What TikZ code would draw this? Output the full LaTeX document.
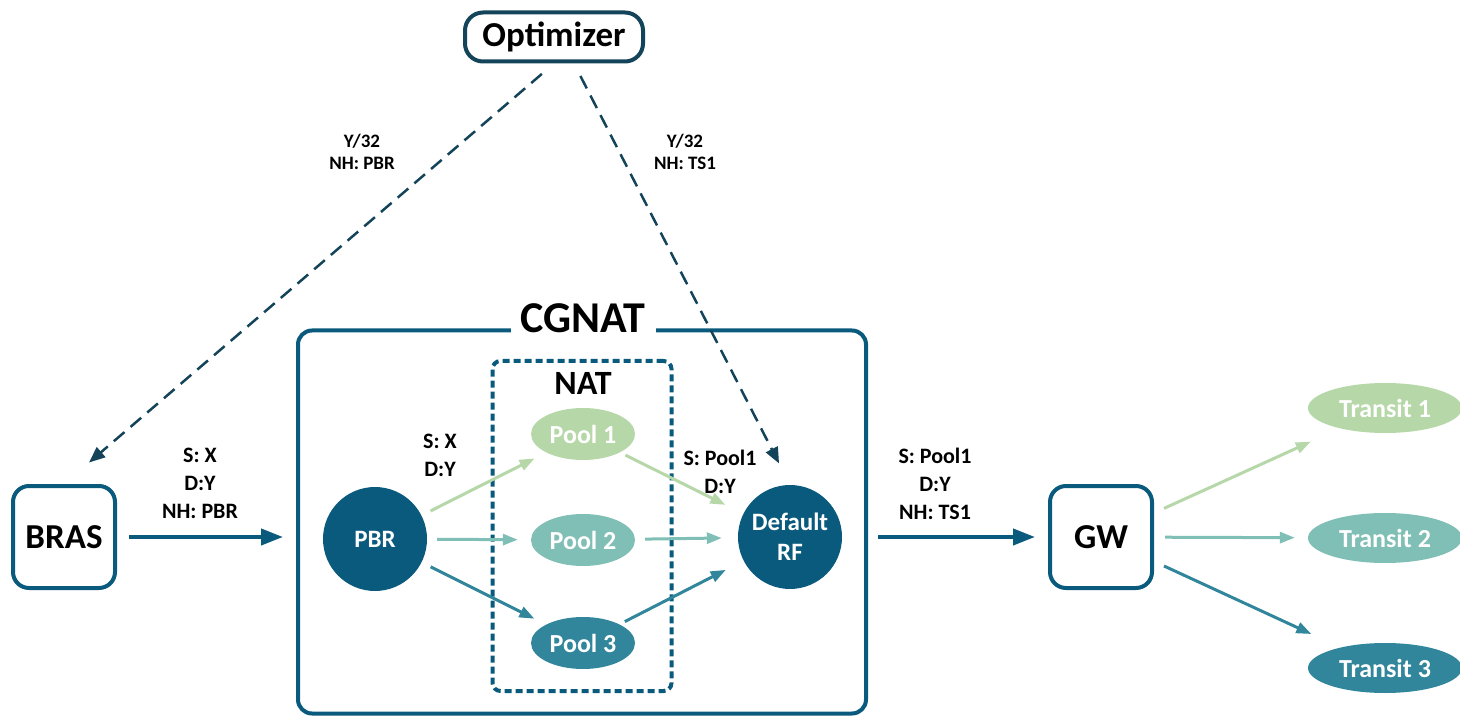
\documentclass[tikz,border=0pt]{standalone}
\usepackage{fontspec}
\setmainfont{Carlito}
\usetikzlibrary{shapes.geometric,arrows.meta,calc}
\definecolor{NetBlue}{RGB}{10,90,126}
\definecolor{OptBlue}{RGB}{20,68,90}
\definecolor{PoolGreen}{RGB}{182,215,168}
\definecolor{PoolAqua}{RGB}{128,191,181}
\definecolor{PoolTeal}{RGB}{49,134,155}

\begin{document}
\begin{tikzpicture}[x=1pt,y=-1pt,
    box/.style={draw=NetBlue,line width=4pt,rounded corners=16pt,minimum width=102pt,minimum height=102pt,font=\fontsize{35}{35}\selectfont\bfseries},
    optbox/.style={draw=OptBlue,line width=4pt,rounded corners=18pt,minimum width=178pt,minimum height=49pt,font=\fontsize{35}{35}\selectfont\bfseries},
    router/.style={circle,fill=NetBlue,text=white,minimum size=104pt,inner sep=0pt,align=center,font=\fontsize{25}{30}\selectfont\bfseries},
    pool/.style={ellipse,text=white,minimum width=104pt,minimum height=52pt,inner sep=0pt,font=\fontsize{26}{26}\selectfont\bfseries},
    transit/.style={ellipse,text=white,minimum width=154pt,minimum height=50pt,inner sep=0pt,font=\fontsize{26}{26}\selectfont\bfseries},
    lbl/.style={align=center,font=\fontsize{22}{28}\selectfont\bfseries},
    toplbl/.style={align=center,font=\fontsize{19}{22}\selectfont\bfseries},
    mainarrow/.style={NetBlue,line width=4pt,-{Triangle[length=22pt,width=16pt]}},
    flow/.style={line width=3pt,-{Triangle[length=15pt,width=11pt]}},
    ctrl/.style={OptBlue,line width=2.5pt,dash pattern=on 14pt off 8pt,-{Triangle[length=16pt,width=13pt]}}]
    \useasboundingbox (0,0) rectangle (1460,719);
    % frames
    \node[draw=NetBlue,line width=4pt,rounded corners=14pt,minimum width=568pt,minimum height=383pt] (cgnat) at (582,522) {};
    \node[draw=NetBlue,line width=4pt,rounded corners=8pt,dash pattern=on 7pt off 4pt,minimum width=179pt,minimum height=330pt] (nat) at (582,526) {};
    \node[fill=white,inner xsep=10pt,font=\fontsize{44}{44}\selectfont\bfseries] (cgnattitle) at (583,318) {CGNAT};
    \node[font=\fontsize{34}{34}\selectfont\bfseries] (nattitle) at (583,383) {NAT};
    % devices
    \node[optbox] (opt) at (554,37) {Optimizer};
    \node[box] (bras) at (64,537) {BRAS};
    \node[box] (gw) at (1101,537) {GW};
    \node[router] (pbr) at (375,539) {PBR};
    \node[router] (rf) at (790,537) {Default\\RF};
    \node[pool,fill=PoolGreen] (pool1) at (583,434) {Pool 1};
    \node[pool,fill=PoolAqua] (pool2) at (583,540) {Pool 2};
    \node[pool,fill=PoolTeal] (pool3) at (583,643) {Pool 3};
    \node[transit,fill=PoolGreen] (transit1) at (1385,408) {Transit 1};
    \node[transit,fill=PoolAqua] (transit2) at (1385,538) {Transit 2};
    \node[transit,fill=PoolTeal] (transit3) at (1385,668) {Transit 3};
    % traffic
    \draw[mainarrow,shorten <=12pt,shorten >=13pt] (bras) -- (cgnat.west |- bras);
    \draw[mainarrow,shorten <=10pt,shorten >=13pt] (cgnat.east |- rf) -- (gw);
    \draw[flow,PoolGreen,shorten <=10pt,shorten >=13pt] (pbr) -- (pool1);
    \draw[flow,PoolAqua,shorten <=10pt,shorten >=13pt] (pbr) -- (pool2);
    \draw[flow,PoolTeal,shorten <=10pt,shorten >=13pt] (pbr) -- (pool3);
    \draw[flow,PoolGreen,shorten <=6pt,shorten >=20pt] (pool1) -- (rf);
    \draw[flow,PoolAqua,shorten <=10pt,shorten >=16pt] (pool2) -- (rf);
    \draw[flow,PoolTeal,shorten <=6pt,shorten >=20pt] (pool3) -- (rf);
    \draw[flow,PoolGreen,shorten <=11pt,shorten >=32pt] (gw) -- (transit1);
    \draw[flow,PoolAqua,shorten <=11pt,shorten >=13pt] (gw) -- (transit2);
    \draw[flow,PoolTeal,shorten <=11pt,shorten >=32pt] (gw) -- (transit3);
    % control
    \draw[ctrl,shorten <=16pt,shorten >=33pt] (opt.south) -- (bras.north);
    \draw[ctrl,shorten <=14pt,shorten >=24pt] ($(opt.south)+(20,0)$) -- (rf.north);
    % labels
    \node[lbl] (braslbl) at (200,483) {S: X\\D:Y\\NH: PBR};
    \node[lbl] (pbrlbl) at (440,455) {S: X\\D:Y};
    \node[lbl] (rflbl) at (720,472) {S: Pool1\\D:Y};
    \node[lbl] (gwlbl) at (935,484) {S: Pool1\\D:Y\\NH: TS1};
    \node[toplbl] (brasctrl) at (362,152) {Y/32\\NH: PBR};
    \node[toplbl] (rfctrl) at (685,152) {Y/32\\NH: TS1};
\end{tikzpicture}
\end{document}
